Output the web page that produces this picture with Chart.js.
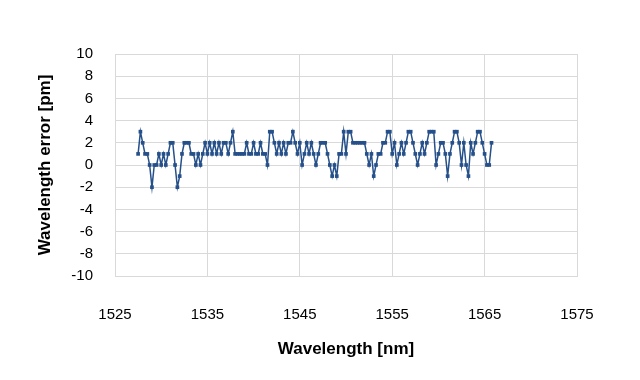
<!DOCTYPE html>
<html>
<head>
<meta charset="utf-8">
<script src="https://cdn.jsdelivr.net/npm/chart.js@4"></script>
<style>
html,body{margin:0;padding:0;background:#fff;}
#wrap{width:640px;height:380px;position:relative;}
</style>
</head>
<body>
<div id="wrap"><canvas id="c" width="640" height="380"></canvas></div>
<script>
const wavelengths = [
1527.5,1527.75,1528,1528.25,1528.5,1528.75,1529,1529.25,1529.5,1529.75,
1530,1530.25,1530.5,1530.75,1531,1531.25,1531.5,1531.75,1532,1532.25,
1532.5,1532.75,1533,1533.25,1533.5,1533.75,1534,1534.25,1534.5,1534.75,
1535,1535.25,1535.5,1535.75,1536,1536.25,1536.5,1536.75,1537,1537.25,
1537.5,1537.75,1538,1538.25,1538.5,1538.75,1539,1539.25,1539.5,1539.75,
1540,1540.25,1540.5,1540.75,1541,1541.25,1541.5,1541.75,1542,1542.25,
1542.5,1542.75,1543,1543.25,1543.5,1543.75,1544,1544.25,1544.5,1544.75,
1545,1545.25,1545.5,1545.75,1546,1546.25,1546.5,1546.75,1547,1547.25,
1547.5,1547.75,1548,1548.25,1548.5,1548.75,1549,1549.25,1549.5,1549.75,
1550,1550.25,1550.5,1550.75,1551,1551.25,1551.5,1551.75,1552,1552.25,
1552.5,1552.75,1553,1553.25,1553.5,1553.75,1554,1554.25,1554.5,1554.75,
1555,1555.25,1555.5,1555.75,1556,1556.25,1556.5,1556.75,1557,1557.25,
1557.5,1557.75,1558,1558.25,1558.5,1558.75,1559,1559.25,1559.5,1559.75,
1560,1560.25,1560.5,1560.75,1561,1561.25,1561.5,1561.75,1562,1562.25,
1562.5,1562.75,1563,1563.25,1563.5,1563.75,1564,1564.25,1564.5,1564.75,
1565,1565.25,1565.5,1565.75
];
const errors = [
1,3,2,1,1,0,-2,0,0,1,
0,1,0,1,2,2,0,-2,-1,1,
2,2,2,1,1,0,1,0,1,2,
1,2,1,2,1,2,1,2,2,1,
2,3,1,1,1,1,1,2,1,1,
2,1,1,2,1,1,0,3,3,2,
1,2,1,2,1,2,2,3,2,1,
2,0,1,2,1,2,1,0,1,2,
2,2,1,0,-1,0,-1,1,1,3,
1,3,3,2,2,2,2,2,2,1,
0,1,-1,0,1,1,2,2,3,3,
1,2,0,1,2,1,2,3,3,2,
1,0,1,2,1,2,3,3,3,0,
1,2,2,1,-1,1,2,3,3,2,
0,2,0,-1,2,1,2,3,3,2,
1,0,0,2
];
const xTicks = [1525,1535,1545,1555,1565,1575];
const yMin = -10, yMax = 10, yStep = 2;

const points = wavelengths.map((w,i)=>({x:w,y:errors[i]}));
const color = '#26508A';
const tickFont = {family:'"Liberation Sans", Arial, sans-serif', size:15};
const titleFont = {family:'"Liberation Sans", Arial, sans-serif', size:17, weight:'bold'};

new Chart(document.getElementById('c'), {
  type:'line',
  data:{datasets:[{
    data:points,
    borderColor:color,
    backgroundColor:color,
    borderWidth:1.5,
    pointStyle:'rect',
    pointRadius:2.6,
    pointBorderWidth:0,
    pointBackgroundColor:color,
    tension:0,
    fill:false
  }]},
  options:{
    responsive:false,
    animation:false,
    layout:{padding:{left:0,right:63,top:54,bottom:0}},
    plugins:{legend:{display:false},tooltip:{enabled:false}},
    scales:{
      x:{
        type:'linear',
        min:xTicks[0], max:xTicks[xTicks.length-1],
        afterBuildTicks:(s)=>{s.ticks = xTicks.map(v=>({value:v}));},
        afterFit:(s)=>{s.height = 104;},
        grid:{color:'#d9d9d9',lineWidth:1,drawTicks:false},
        border:{color:'#d9d9d9'},
        ticks:{color:'#000',font:tickFont,padding:30,maxRotation:0,callback:(v)=>String(v)},
        title:{display:true,text:'Wavelength [nm]',color:'#000',font:titleFont,padding:{top:0,bottom:20}}
      },
      y:{
        min:yMin,max:yMax,
        ticks:{stepSize:yStep,color:'#000',font:tickFont,padding:22},
        afterFit:(s)=>{s.width = 115;},
        grid:{color:'#d9d9d9',lineWidth:1,drawTicks:false},
        border:{color:'#d9d9d9'},
        title:{display:true,text:'Wavelength error [pm]',color:'#000',font:titleFont,padding:{top:35,bottom:0}}
      }
    }
  }
});
</script>
</body>
</html>
